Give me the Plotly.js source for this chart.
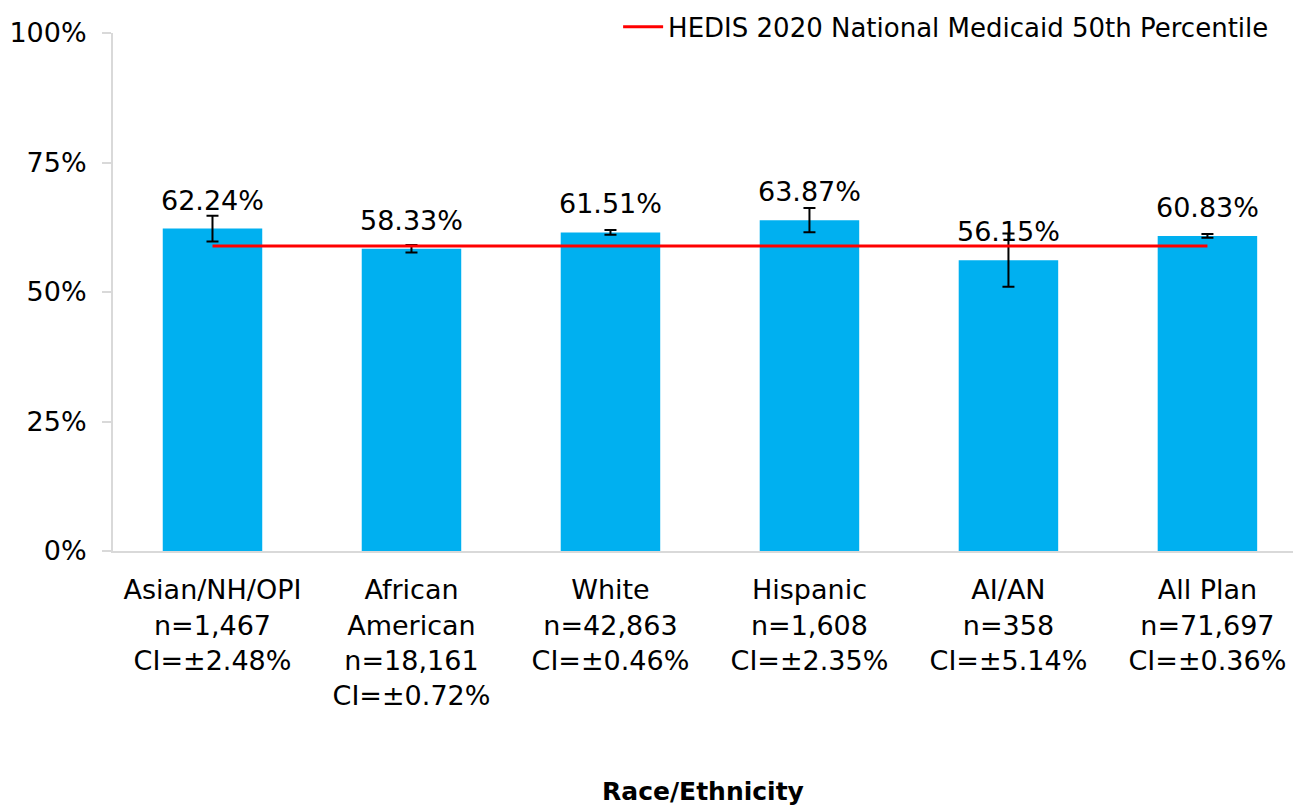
<!DOCTYPE html>
<html>
<head>
<meta charset="utf-8">
<script src="https://cdn.plot.ly/plotly-3.0.1.min.js"></script>
<style>html,body{margin:0;padding:0;background:#fff;}#chart{width:1293px;height:806px;}</style>
</head>
<body>
<div id="chart"></div>
<script>
const groups = ["Asian/NH/OPI", "African<br>American", "White", "Hispanic", "AI/AN", "All Plan"];
const nValues = ["1,467", "18,161", "42,863", "1,608", "358", "71,697"];
const ciValues = [2.48, 0.72, 0.46, 2.35, 5.14, 0.36];
const rates = [62.24, 58.33, 61.51, 63.87, 56.15, 60.83];
const benchmark = 58.88;
const benchmarkName = "HEDIS 2020 National Medicaid 50th Percentile";
const xTitle = "Race/Ethnicity";

const labels = groups.map((g, i) => g + "<br>n=" + nValues[i] + "<br>CI=±" + ciValues[i].toFixed(2) + "%");
const FONT = "'DejaVu Sans', sans-serif";

const barTrace = {
  type: "bar",
  x: labels,
  y: rates,
  width: 0.5,
  marker: {color: "#00B0F0"},
  error_y: {type: "data", array: ciValues, visible: true, color: "#000000", thickness: 2, width: 6},
  showlegend: false,
  hoverinfo: "skip"
};
const lineTrace = {
  type: "scatter",
  mode: "lines",
  x: [labels[0], labels[labels.length - 1]],
  y: [benchmark, benchmark],
  line: {color: "#FF0000", width: 3},
  name: benchmarkName,
  showlegend: true
};

const annotations = rates.map((v, i) => ({
  x: labels[i], y: v, xref: "x", yref: "y",
  text: v.toFixed(2) + "%",
  showarrow: false, yanchor: "bottom", yshift: 11,
  font: {family: FONT, size: 27, color: "#000"}
}));

const layout = {
  width: 1293, height: 806,
  margin: {l: 113, r: 0, t: 33, b: 255},
  paper_bgcolor: "#fff", plot_bgcolor: "#fff",
  font: {family: FONT, size: 27, color: "#000"},
  bargap: 0.5,
  xaxis: {
    type: "category",
    range: [-0.5, 5.43],
    showline: true, linecolor: "#d9d9d9", linewidth: 2,
    ticks: "", showgrid: false, zeroline: false,
    ticklabelstandoff: 14,
    tickfont: {family: FONT, size: 27, color: "#000"},
    title: {text: "<b>" + xTitle + "</b>", font: {family: FONT, size: 25, color: "#000"}, standoff: 75},
    automargin: false
  },
  yaxis: {
    range: [0, 100],
    tickvals: [0, 25, 50, 75, 100],
    ticktext: ["0%", "25%", "50%", "75%", "100%"],
    showline: true, linecolor: "#d9d9d9", linewidth: 2,
    ticks: "outside", ticklen: 9, tickcolor: "#d9d9d9", tickwidth: 2,
    ticklabelstandoff: 10,
    showgrid: false, zeroline: false,
    tickfont: {family: FONT, size: 27, color: "#000"},
    automargin: false
  },
  legend: {
    orientation: "h", x: 0.984, xanchor: "right", y: 1.012, yanchor: "middle",
    itemwidth: 40,
    font: {family: FONT, size: 26, color: "#000"}, bgcolor: "rgba(0,0,0,0)"
  },
  annotations: annotations
};

Plotly.newPlot("chart", [barTrace, lineTrace], layout, {displayModeBar: false, staticPlot: true});
</script>
</body>
</html>
